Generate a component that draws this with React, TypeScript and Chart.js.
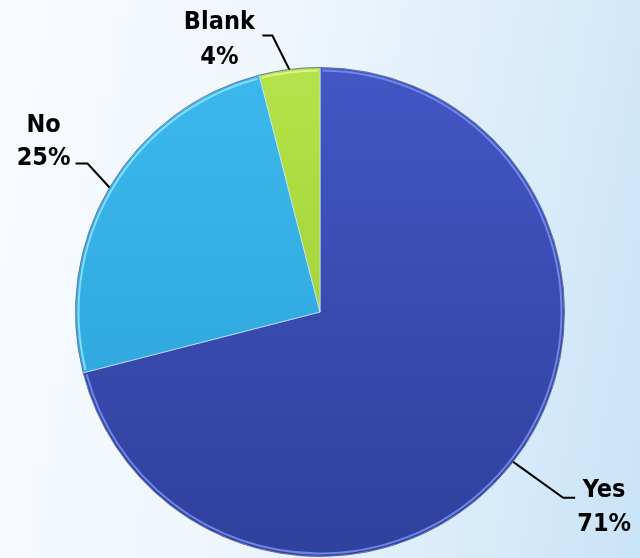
import React, { useEffect, useRef } from "react";
import { Chart, registerables } from "chart.js";

Chart.register(...registerables);

const categories = ["Yes", "No", "Blank"];
const percents = [71, 25, 4];
const labelLines = ["Yes", "No", "Blank"];
const percentLabels = ["71%", "25%", "4%"];

// colour pairs (top, bottom) for each slice
const sliceTop = ["#4356c4", "#3cb8ec", "#b4e24a"];
const sliceBottom = ["#30409c", "#2aa0d8", "#94c82a"];
const rimColors = ["rgba(120,140,240,0.9)", "rgba(140,225,255,0.9)", "rgba(225,250,140,0.9)"];

// leader-line layout (offsets from slice edge point)
const leaderLayout = [
  { dx: 50, dy: 36, hx: 12, align: "center" as CanvasTextAlign, tx: 29, ty1: -1, ty2: 33 },
  { dx: -22, dy: -24, hx: -12, align: "center" as CanvasTextAlign, tx: -32, ty1: -32, ty2: 1 },
  { dx: -17, dy: -34, hx: -10, align: "center" as CanvasTextAlign, tx: -43, ty1: -6, ty2: 29 },
];

const leaderPlugin = {
  id: "leaderLabels",
  afterDatasetsDraw(chart: any) {
    const ctx = chart.ctx as CanvasRenderingContext2D;
    const meta = chart.getDatasetMeta(0);
    meta.data.forEach((arc: any, i: number) => {
      const { x, y, startAngle, endAngle, outerRadius } = arc.getProps(
        ["x", "y", "startAngle", "endAngle", "outerRadius"],
        true
      );
      // rim highlight
      ctx.save();
      ctx.beginPath();
      ctx.arc(x, y, outerRadius - 3, startAngle + 0.01, endAngle - 0.01);
      ctx.strokeStyle = rimColors[i];
      ctx.lineWidth = 2;
      ctx.stroke();
      ctx.beginPath();
      ctx.arc(x, y, outerRadius, startAngle, endAngle);
      ctx.strokeStyle = "rgba(30,40,90,0.55)";
      ctx.lineWidth = 1;
      ctx.stroke();
      ctx.restore();

      const mid = (startAngle + endAngle) / 2;
      const px = x + Math.cos(mid) * outerRadius;
      const py = y + Math.sin(mid) * outerRadius;
      const L = leaderLayout[i];
      const ex = px + L.dx;
      const ey = py + L.dy;
      const hx = ex + L.hx;
      ctx.save();
      ctx.strokeStyle = "#000";
      ctx.lineWidth = 2;
      ctx.beginPath();
      ctx.moveTo(px, py);
      ctx.lineTo(ex, ey);
      ctx.lineTo(hx, ey);
      ctx.stroke();
      ctx.fillStyle = "#000";
      ctx.font = "bold 25px 'DejaVu Sans Condensed', 'DejaVu Sans'";
      ctx.textAlign = L.align;
      ctx.textBaseline = "alphabetic";
      const tx = hx + L.tx;
      ctx.fillText(labelLines[i], tx, ey + L.ty1);
      ctx.fillText(percentLabels[i], tx, ey + L.ty2);
      ctx.restore();
    });
  },
};

export default function App() {
  const canvasRef = useRef<HTMLCanvasElement | null>(null);

  useEffect(() => {
    document.body.style.margin = "0";
    const canvas = canvasRef.current;
    if (!canvas) return;
    const chart = new Chart(canvas, {
      type: "pie",
      data: {
        labels: categories,
        datasets: [
          {
            data: percents,
            backgroundColor: (c: any) => {
              const ch = c.chart;
              const area = ch.chartArea;
              if (!area) return sliceTop[c.dataIndex];
              const g = ch.ctx.createLinearGradient(0, area.top, 0, area.bottom);
              g.addColorStop(0, sliceTop[c.dataIndex]);
              g.addColorStop(1, sliceBottom[c.dataIndex]);
              return g;
            },
            borderColor: "rgba(200,230,255,0.7)",
            borderWidth: 1,
          },
        ],
      },
      options: {
        animation: false,
        responsive: false,
        devicePixelRatio: 1,
        layout: { padding: { top: 67, bottom: 1, left: 0, right: 0 } },
        plugins: {
          legend: { display: false },
          tooltip: { enabled: false },
        },
      },
      plugins: [leaderPlugin],
    });
    return () => chart.destroy();
  }, []);

  return (
    <div
      style={{
        position: "absolute",
        left: 0,
        top: 0,
        width: 640,
        height: 558,
        background:
          "linear-gradient(100deg, #f8fbfe 0%, #eff6fc 40%, #d8ebf9 78%, #c9e3f7 100%)",
      }}
    >
      <canvas ref={canvasRef} width={640} height={558} style={{ display: "block" }} />
    </div>
  );
}
